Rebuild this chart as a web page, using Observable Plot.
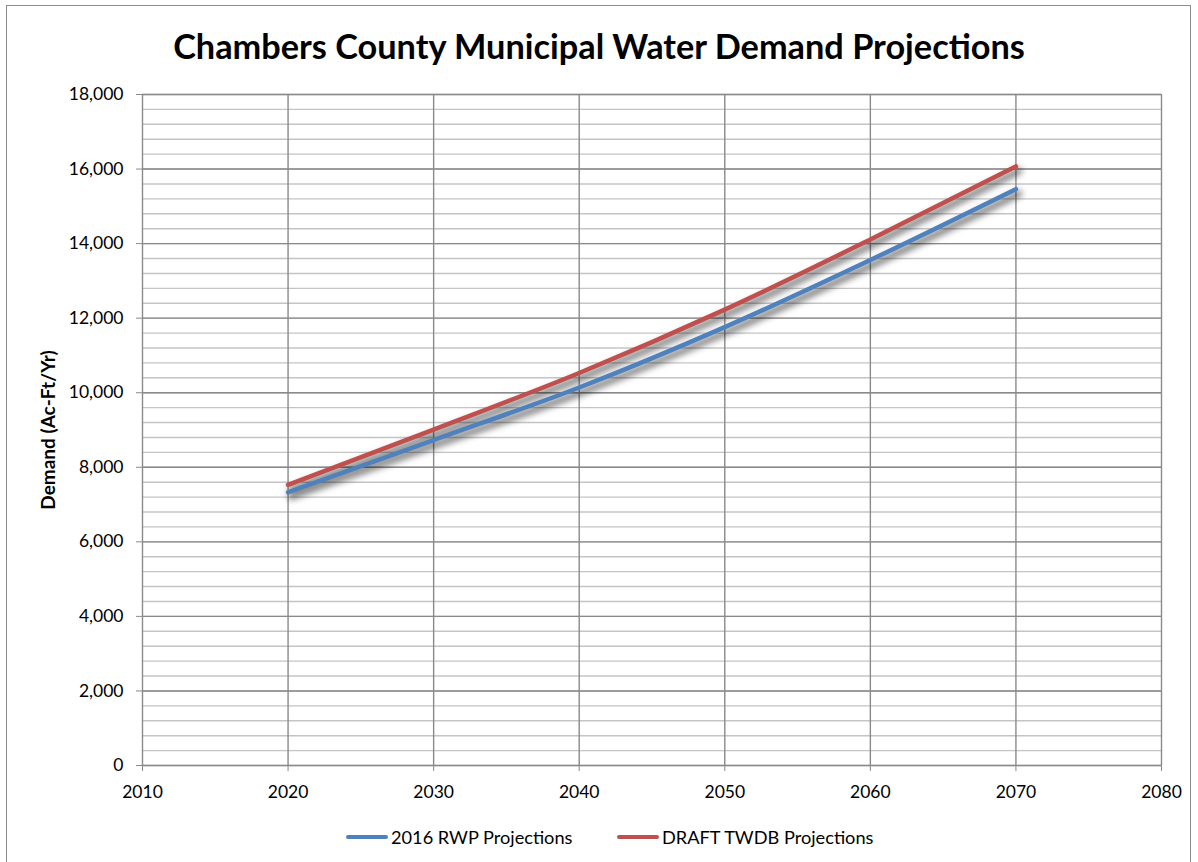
<!DOCTYPE html>
<html><head><meta charset="utf-8">
<script src="https://cdn.jsdelivr.net/npm/d3@7"></script>
<script src="https://cdn.jsdelivr.net/npm/@observablehq/plot@0.6"></script>
<style>
html,body{margin:0;padding:0;background:#fff;}
#wrap{position:relative;width:1198px;height:862px;overflow:hidden;font-family:Lato,sans-serif;color:#000;}
#frame{position:absolute;left:6px;top:5px;width:1185px;height:900px;border:1.5px solid #8c8c8c;box-sizing:border-box;}
#title{position:absolute;left:0;width:1198px;top:26px;line-height:40px;text-align:center;font-weight:bold;font-size:34.3px;}
#chart{position:absolute;left:0;top:0;}
#ylab{position:absolute;left:46.5px;top:430px;transform:translate(-50%,-50%) rotate(-90deg);font-weight:bold;font-size:19px;white-space:nowrap;}
.leg{position:absolute;top:826px;height:22px;display:flex;align-items:center;font-size:18.2px;white-space:nowrap;}
.sw{width:42px;height:4.5px;border-radius:2.5px;margin-right:3px;}
</style></head>
<body>
<div id="wrap">
  <div id="frame"></div>
  <div id="chart"></div>
  <div id="title">Chambers County Municipal Water Demand Projections</div>
  <div id="ylab">Demand (Ac-Ft/Yr)</div>
  <div id="legend"></div>
</div>
<script>
const years = [2020, 2030, 2040, 2050, 2060, 2070];
const rwp2016 = [7330, 8730, 10140, 11760, 13560, 15460];
const draftTwdb = [7530, 9010, 10530, 12230, 14110, 16070];
const seriesNames = ["2016 RWP Projections", "DRAFT TWDB Projections"];
const seriesColors = ["#4f81bd", "#c0504d"];
const xTicks = [2010, 2020, 2030, 2040, 2050, 2060, 2070, 2080];
const yTicks = [0, 2000, 4000, 6000, 8000, 10000, 12000, 14000, 16000, 18000];
const yMinor = d3.range(0, 18001, 400);

const rows = [];
years.forEach((y, i) => {
  rows.push({year: y, value: rwp2016[i], series: seriesNames[0]});
  rows.push({year: y, value: draftTwdb[i], series: seriesNames[1]});
});

const grid = "#8a8a8a";
const chart = Plot.plot({
  width: 1198,
  height: 862,
  marginLeft: 142,
  marginRight: 37,
  marginTop: 94,
  marginBottom: 97,
  style: {fontFamily: "Lato, sans-serif", fontSize: "17.5px", color: "#000", background: "transparent"},
  x: {domain: [2010, 2080]},
  y: {domain: [0, 18000]},
  color: {domain: seriesNames, range: seriesColors},
  marks: [
    Plot.ruleY(yMinor, {stroke: "#c4c4c4", strokeWidth: 1.4}),
    Plot.ruleY(yTicks, {stroke: grid, strokeWidth: 1.4}),
    Plot.ruleX(xTicks, {stroke: grid, strokeWidth: 1.4}),
    Plot.axisY({ticks: yTicks, tickFormat: d3.format(","), tickSize: 6, tickPadding: 13, stroke: grid, fill: "#000", label: null}),
    Plot.axisX({ticks: xTicks, tickFormat: d => String(d), tickSize: 6, tickPadding: 14, stroke: grid, fill: "#000", label: null}),
    // shadow line (first line mark) — blurred below
    Plot.line(rows, {x: "year", y: "value", z: "series", stroke: "#000", strokeOpacity: 0.5, strokeWidth: 6.5, dx: 3, dy: 4.5, curve: "monotone-x"}),
    Plot.line(rows, {x: "year", y: "value", z: "series", stroke: "series", strokeWidth: 4.5, curve: "monotone-x"})
  ]
});
// soft drop shadow for the series lines
const svg = d3.select(chart);
const defs = svg.insert("defs", ":first-child");
defs.append("filter").attr("id", "shadowBlur")
  .attr("filterUnits", "userSpaceOnUse")
  .attr("x", 0).attr("y", 0).attr("width", 1198).attr("height", 862)
  .append("feGaussianBlur").attr("stdDeviation", 3);
const lineGroups = svg.selectAll('g[aria-label="line"]').nodes();
if (lineGroups.length) d3.select(lineGroups[0]).attr("filter", "url(#shadowBlur)");
document.getElementById("chart").appendChild(chart);

const legend = document.getElementById("legend");
const legLeft = [346, 617];
seriesNames.forEach((name, i) => {
  const item = document.createElement("div");
  item.className = "leg";
  item.style.left = legLeft[i] + "px";
  const sw = document.createElement("div");
  sw.className = "sw";
  sw.style.background = seriesColors[i];
  const tx = document.createElement("span");
  tx.textContent = name;
  item.appendChild(sw);
  item.appendChild(tx);
  legend.appendChild(item);
});
</script>
</body></html>
